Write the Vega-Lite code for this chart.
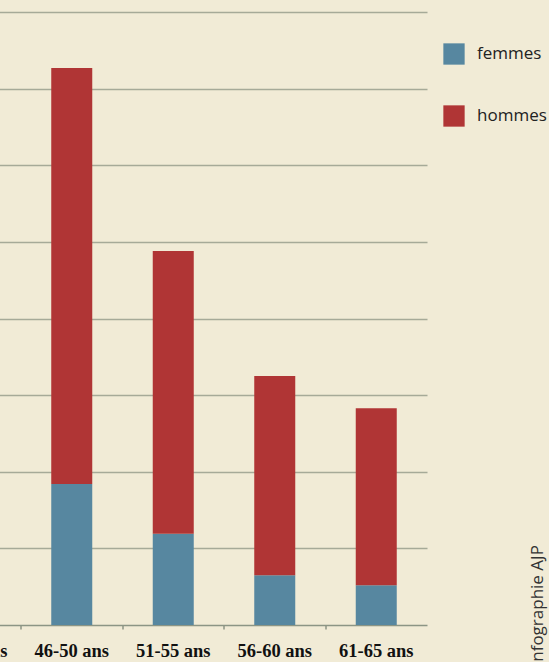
{
  "$schema": "https://vega.github.io/schema/vega-lite/v6.json",
  "width": 507.5,
  "height": 613,
  "autosize": {"type": "none"},
  "padding": {"left": -80.5, "top": 12, "right": 122, "bottom": 37},
  "background": "#f1ebd6",
  "config": {"view": {"stroke": null}},
  "data": {
    "values": [
      {"age": "46-50 ans", "sexe": "femmes", "valeur": 18.4},
      {"age": "46-50 ans", "sexe": "hommes", "valeur": 54.3},
      {"age": "51-55 ans", "sexe": "femmes", "valeur": 11.9},
      {"age": "51-55 ans", "sexe": "hommes", "valeur": 36.9},
      {"age": "56-60 ans", "sexe": "femmes", "valeur": 6.5},
      {"age": "56-60 ans", "sexe": "hommes", "valeur": 26.0},
      {"age": "61-65 ans", "sexe": "femmes", "valeur": 5.2},
      {"age": "61-65 ans", "sexe": "hommes", "valeur": 23.1}
    ]
  },
  "mark": {"type": "bar", "width": 41},
  "encoding": {
    "x": {
      "field": "age",
      "type": "nominal",
      "sort": null,
      "scale": {
        "domain": ["41-45 ans", "46-50 ans", "51-55 ans", "56-60 ans", "61-65 ans"],
        "paddingInner": 0,
        "paddingOuter": 0
      },
      "axis": {
        "title": null,
        "labelAngle": 0,
        "bandPosition": 0,
        "labelFont": "Liberation Serif",
        "labelFontWeight": "bold",
        "labelFontSize": 18.5,
        "labelColor": "#111111",
        "labelPadding": 12,
        "tickSize": 4,
        "tickColor": "#8c9585",
        "tickWidth": 1.5,
        "domainColor": "#8c9585",
        "domainWidth": 1.5,
        "grid": false
      }
    },
    "y": {
      "field": "valeur",
      "type": "quantitative",
      "stack": "zero",
      "scale": {"domain": [0, 80], "nice": false},
      "axis": {
        "orient": "right",
        "values": [10, 20, 30, 40, 50, 60, 70, 80],
        "labels": false,
        "ticks": false,
        "domain": false,
        "grid": true,
        "gridColor": "#a6aa98",
        "gridWidth": 1.5,
        "title": "Infographie AJP",
        "titleAngle": 270,
        "titleAlign": "left",
        "titleBaseline": "middle",
        "titleX": 110,
        "titleY": 654,
        "titleFont": "Open Sans",
        "titleFontSize": 17,
        "titleFontWeight": "normal",
        "titleColor": "#333333"
      }
    },
    "color": {
      "field": "sexe",
      "type": "nominal",
      "scale": {"domain": ["femmes", "hommes"], "range": ["#5787a0", "#b03535"]},
      "legend": {
        "title": null,
        "orient": "none",
        "legendX": 523.5,
        "legendY": 31,
        "symbolType": "square",
        "symbolSize": 454,
        "symbolStrokeWidth": 0,
        "symbolOpacity": 1,
        "rowPadding": 40,
        "labelOffset": 12,
        "labelFont": "Open Sans",
        "labelFontSize": 17,
        "labelColor": "#222222",
        "padding": 0
      }
    },
    "order": {"field": "sexe", "sort": "ascending"}
  }
}
